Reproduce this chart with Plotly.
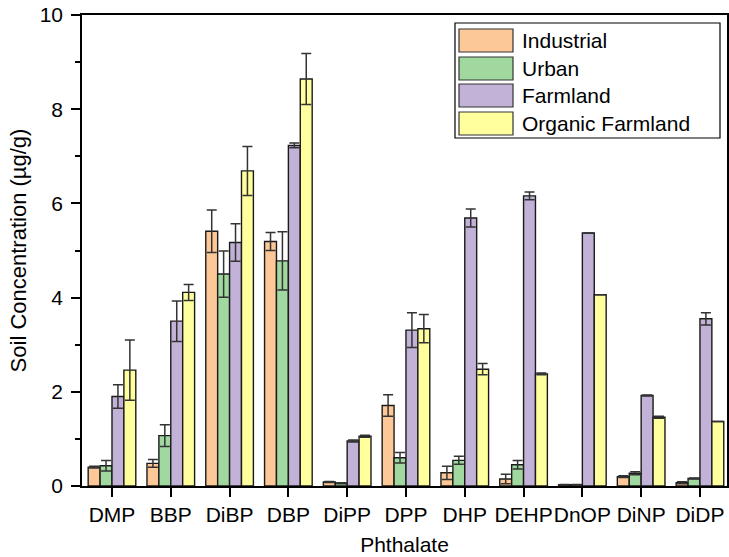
import plotly.graph_objects as go

# Phthalate concentrations in soil (µg/g), mean ± error, per land use
categories = ["DMP", "BBP", "DiBP", "DBP", "DiPP", "DPP", "DHP", "DEHP", "DnOP", "DiNP", "DiDP"]

industrial = [0.40, 0.48, 5.41, 5.19, 0.085, 1.71, 0.28, 0.15, 0.025, 0.20, 0.07]
industrial_err = [0.02, 0.08, 0.45, 0.19, 0.01, 0.23, 0.14, 0.10, 0.005, 0.02, 0.02]

urban = [0.43, 1.07, 4.50, 4.78, 0.06, 0.60, 0.545, 0.45, 0.025, 0.27, 0.16]
urban_err = [0.11, 0.23, 0.49, 0.62, 0.01, 0.11, 0.085, 0.09, 0.005, 0.03, 0.01]

farmland = [1.90, 3.50, 5.17, 7.23, 0.955, 3.31, 5.69, 6.16, 5.37, 1.92, 3.55]
farmland_err = [0.25, 0.43, 0.40, 0.05, 0.02, 0.37, 0.19, 0.08, 0.0, 0.01, 0.13]

organic = [2.46, 4.11, 6.69, 8.64, 1.055, 3.34, 2.48, 2.38, 4.06, 1.46, 1.37]
organic_err = [0.64, 0.17, 0.52, 0.54, 0.02, 0.30, 0.12, 0.02, 0.0, 0.02, 0.0]

series_names = ["Industrial", "Urban", "Farmland", "Organic Farmland"]
series_colors = ["#FDC898", "#A0D8A0", "#C2B2D8", "#FFFF9E"]
series_values = [industrial, urban, farmland, organic]
series_errors = [industrial_err, urban_err, farmland_err, organic_err]

FONT = "Liberation Sans, Arial, sans-serif"

W, H = 729, 557
ML, MR, MT, MB = 82, 2, 15, 71

fig = go.Figure()
for name, color, vals, errs in zip(series_names, series_colors, series_values, series_errors):
    fig.add_trace(go.Bar(
        name=name,
        x=categories,
        y=vals,
        marker=dict(color=color, line=dict(color="#1a1a1a", width=1.4)),
        error_y=dict(type="data", array=errs, symmetric=True,
                     color="#333333", thickness=1.5, width=5),
        showlegend=False,
    ))

# Legend drawn as a boxed key with large swatches (pixel -> paper helpers)
plot_w = W - ML - MR
plot_h = H - MT - MB


def px_x(px):
    return (px - ML) / plot_w


def px_y(py):
    return (H - MB - py) / plot_h


shapes = [dict(type="rect", xref="paper", yref="paper",
               x0=px_x(455), x1=px_x(720), y0=px_y(138), y1=px_y(23),
               line=dict(color="black", width=1.2), fillcolor="white", layer="above")]
annotations = []
row_tops = [29, 57, 84, 112]
for name, color, top in zip(series_names, series_colors, row_tops):
    shapes.append(dict(type="rect", xref="paper", yref="paper",
                       x0=px_x(459), x1=px_x(513), y0=px_y(top + 23), y1=px_y(top),
                       line=dict(color="#333333", width=1.2), fillcolor=color, layer="above"))
    annotations.append(dict(xref="paper", yref="paper", x=px_x(520), y=px_y(top + 11.5),
                            text=name, showarrow=False, xanchor="left", yanchor="middle",
                            font=dict(family=FONT, size=21, color="black")))

fig.update_layout(
    width=W, height=H,
    margin=dict(l=ML, r=MR, t=MT, b=MB, pad=0),
    paper_bgcolor="white", plot_bgcolor="white",
    barmode="group", bargap=0.19, bargroupgap=0,
    shapes=shapes, annotations=annotations,
    font=dict(family=FONT, size=21, color="black"),
    xaxis=dict(
        range=[-0.51, 10.46], automargin=False, tickangle=0,
        showline=True, linecolor="black", linewidth=1.6, mirror=True,
        ticks="outside", ticklen=9, tickwidth=1.6, tickcolor="black",
        showgrid=False, zeroline=False,
        tickfont=dict(family=FONT, size=21),
        title=dict(text="Phthalate", font=dict(family=FONT, size=21), standoff=12),
    ),
    yaxis=dict(
        range=[0, 10], tickvals=[0, 2, 4, 6, 8, 10], automargin=False,
        showline=True, linecolor="black", linewidth=1.6, mirror=True,
        ticks="outside", ticklen=9, tickwidth=1.6, tickcolor="black",
        minor=dict(dtick=1, ticks="outside", ticklen=5, tickwidth=1.6, tickcolor="black"),
        showgrid=False, zeroline=False,
        tickfont=dict(family=FONT, size=21),
        ticklabelstandoff=4,
        title=dict(text="Soil Concentration (µg/g)", font=dict(family=FONT, size=22), standoff=7),
    ),
)

fig.write_html("out.html")
